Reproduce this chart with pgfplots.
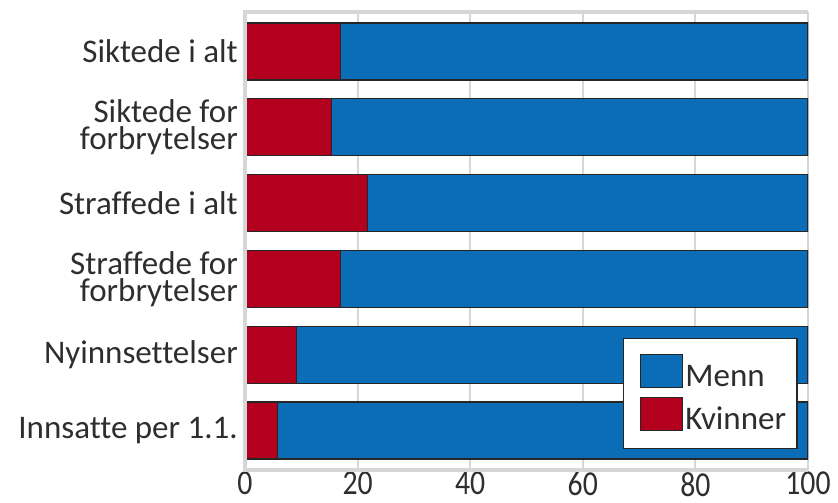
\documentclass[border=0pt]{standalone}
\usepackage{fontspec}
\setmainfont[Ligatures=NoCommon]{Carlito}
\newfontfamily\tickfont[FakeStretch=0.85]{Carlito}
\usepackage{pgfplots}
\pgfplotsset{compat=1.18}
\definecolor{kred}{HTML}{B3001E}
\definecolor{mblue}{HTML}{0A6DB5}
\definecolor{gridg}{HTML}{D6D6D6}
\definecolor{txt}{HTML}{2E2E2E}
\begin{document}
\begin{tikzpicture}
\begin{axis}[
  xbar stacked,
  scale only axis,
  width=563pt, height=458pt,
  at={(0pt,0pt)}, anchor=south west,
  xmin=0, xmax=100,
  ymin=-0.52, ymax=5.52,
  y dir=reverse,
  bar width=57pt,
  ytick={0,1,2,3,4,5},
  yticklabels={Siktede i alt, {Siktede for\\forbrytelser}, Straffede i alt, {Straffede for\\forbrytelser}, Nyinnsettelser, Innsatte per 1.1.},
  yticklabel style={align=right, font=\fontsize{33}{27}\selectfont, text=txt, inner sep=0pt, xshift=-7pt},
  xtick={0,20,40,60,80,100},
  xticklabel style={font=\tickfont\fontsize{35}{35}\selectfont, text=txt, inner sep=0pt, yshift=-2pt},
  /pgf/number format/assume math mode=true,
  major tick length=0pt,
  xmajorgrids, major grid style={gridg, line width=2pt},
  axis line style={draw=none},
  axis x line*=bottom, axis y line*=left,
  legend style={at={(0.671,0.288)}, anchor=north west, draw=black!85, line width=1.2pt,
    font=\fontsize{33}{33}\selectfont, text=txt, inner xsep=9pt, inner ysep=15pt, row sep=7pt},
  legend cell align=left,
  reverse legend,
  legend image code/.code={\path (0pt,0pt); \draw[#1, draw=black!85, line width=1pt] (8pt,-11pt) rectangle (50pt,22pt);},
]
\addplot[fill=kred, draw=black!85, line width=1.2pt] coordinates {(17,0) (15.4,1) (21.8,2) (16.9,3) (9.1,4) (5.8,5)};
\addplot[fill=mblue, draw=black!85, line width=1.2pt] coordinates {(83,0) (84.6,1) (78.2,2) (83.1,3) (90.9,4) (94.2,5)};
\legend{Kvinner, Menn}
\end{axis}
\draw[gridg, line width=4pt] (0pt,458pt) -- (563pt,458pt);
\draw[gridg, line width=4pt] (0pt,0pt) -- (563pt,0pt);
\draw[gridg, line width=4pt] (0pt,-2pt) -- (0pt,460pt);
\pgfresetboundingbox
\path (-245pt,-33pt) rectangle (593pt,470pt);
\end{tikzpicture}
\end{document}
